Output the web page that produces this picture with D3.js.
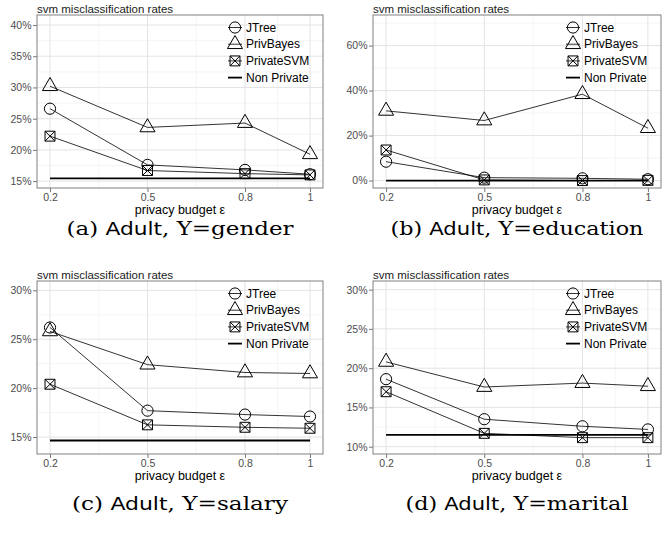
<!DOCTYPE html>
<html><head><meta charset="utf-8">
<script src="https://cdn.jsdelivr.net/npm/d3@7"></script>
<style>
html,body{margin:0;padding:0;background:#fff;}
svg{display:block;}
</style></head>
<body>
<script>
// ---------- data ----------
const epsilon = [0.2, 0.5, 0.8, 1];
const xTicks = [0.2, 0.5, 0.8, 1];
const xTickLabels = ["0.2", "0.5", "0.8", "1"];
const seriesNames = ["JTree", "PrivBayes", "PrivateSVM", "Non Private"];

const genderJTree      = [26.6, 17.6, 16.8, 16.1];
const genderPrivBayes  = [30.2, 23.6, 24.3, 19.3];
const genderPrivateSVM = [22.2, 16.7, 16.2, 16.0];
const genderNonPrivate = [15.45, 15.45, 15.45, 15.45];

const educationJTree      = [8.4, 1.3, 1.0, 0.6];
const educationPrivBayes  = [31.0, 26.7, 38.4, 23.3];
const educationPrivateSVM = [13.6, 0.3, 0.0, 0.1];
const educationNonPrivate = [0.0, 0.0, 0.0, 0.0];

const salaryJTree      = [26.2, 17.7, 17.3, 17.1];
const salaryPrivBayes  = [25.8, 22.4, 21.6, 21.5];
const salaryPrivateSVM = [20.4, 16.25, 16.0, 15.9];
const salaryNonPrivate = [14.65, 14.65, 14.65, 14.65];

const maritalJTree      = [18.6, 13.5, 12.6, 12.2];
const maritalPrivBayes  = [20.8, 17.6, 18.1, 17.7];
const maritalPrivateSVM = [17.0, 11.7, 11.15, 11.15];
const maritalNonPrivate = [11.5, 11.5, 11.5, 11.5];

const genderYTicks = [15, 20, 25, 30, 35, 40];
const educationYTicks = [0, 20, 40, 60];
const salaryYTicks = [15, 20, 25, 30];
const maritalYTicks = [10, 15, 20, 25, 30];

const captionLetters = ["(a)", "(b)", "(c)", "(d)"];
const captionTargets = ["gender", "education", "salary", "marital"];

// ---------- layout ----------
const W = 667, H = 533;
const panels = [
  {x0: 37, x1: 323, y0: 15, y1: 188, yDom: [13.9, 41.6], ticks: genderYTicks,
   series: [genderJTree, genderPrivBayes, genderPrivateSVM, genderNonPrivate], capY: 235, capW: 227},
  {x0: 373, x1: 661, y0: 15, y1: 188, yDom: [-3.3, 73.6], ticks: educationYTicks,
   series: [educationJTree, educationPrivBayes, educationPrivateSVM, educationNonPrivate], capY: 235, capW: 253},
  {x0: 37, x1: 323, y0: 281, y1: 454, yDom: [13.27, 30.95], ticks: salaryYTicks,
   series: [salaryJTree, salaryPrivBayes, salaryPrivateSVM, salaryNonPrivate], capY: 510, capW: 216},
  {x0: 373, x1: 661, y0: 281, y1: 454, yDom: [9.07, 31.1], ticks: maritalYTicks,
   series: [maritalJTree, maritalPrivBayes, maritalPrivateSVM, maritalNonPrivate], capY: 510, capW: 223}
];

const svg = d3.select("body").append("svg").attr("width", W).attr("height", H);
const SANS = "'Liberation Sans', Arial, Helvetica, sans-serif";
const SERIF = "'DejaVu Serif', 'Liberation Serif', serif";
const R = 5.6;

function drawShape(g, kind, cx, cy) {
  if (kind === 0) {
    g.append("circle").attr("cx", cx).attr("cy", cy).attr("r", R)
      .attr("fill", "none").attr("stroke", "#000").attr("stroke-width", 1);
  } else if (kind === 1) {
    const r = 1.555 * R, xc = 1.347 * R, yc = 0.778 * R;
    g.append("path").attr("d", `M${cx},${cy - r}L${cx + xc},${cy + yc}L${cx - xc},${cy + yc}Z`)
      .attr("fill", "none").attr("stroke", "#000").attr("stroke-width", 1);
  } else if (kind === 2) {
    const s = 0.886 * R;
    g.append("path").attr("d",
      `M${cx - s},${cy - s}H${cx + s}V${cy + s}H${cx - s}Z M${cx - s},${cy - s}L${cx + s},${cy + s} M${cx + s},${cy - s}L${cx - s},${cy + s}`)
      .attr("fill", "none").attr("stroke", "#000").attr("stroke-width", 1);
  }
}

panels.forEach((p, pi) => {
  const x = d3.scaleLinear().domain([0.16, 1.04]).range([p.x0, p.x1]);
  const y = d3.scaleLinear().domain(p.yDom).range([p.y1, p.y0]);
  const g = svg.append("g");

  g.append("rect").attr("x", p.x0).attr("y", p.y0).attr("width", p.x1 - p.x0).attr("height", p.y1 - p.y0)
    .attr("fill", "#fff");

  // minor grid
  const step = p.ticks[1] - p.ticks[0];
  const yMinor = [];
  for (let v = p.ticks[0] - step / 2; v <= p.yDom[1]; v += step) if (v >= p.yDom[0]) yMinor.push(v);
  const xMinor = [0.35, 0.65, 0.9];
  g.selectAll(".ymn").data(yMinor).enter().append("line")
    .attr("x1", p.x0).attr("x2", p.x1).attr("y1", d => y(d)).attr("y2", d => y(d))
    .attr("stroke", "#f0f0f0").attr("stroke-width", 0.7);
  g.selectAll(".xmn").data(xMinor).enter().append("line")
    .attr("y1", p.y0).attr("y2", p.y1).attr("x1", d => x(d)).attr("x2", d => x(d))
    .attr("stroke", "#f0f0f0").attr("stroke-width", 0.7);
  // major grid
  g.selectAll(".ymj").data(p.ticks).enter().append("line")
    .attr("x1", p.x0).attr("x2", p.x1).attr("y1", d => y(d)).attr("y2", d => y(d))
    .attr("stroke", "#e3e3e3").attr("stroke-width", 1);
  g.selectAll(".xmj").data(xTicks).enter().append("line")
    .attr("y1", p.y0).attr("y2", p.y1).attr("x1", d => x(d)).attr("x2", d => x(d))
    .attr("stroke", "#e3e3e3").attr("stroke-width", 1);

  // axes
  const xAxis = d3.axisBottom(x).tickValues(xTicks).tickSize(4).tickPadding(1.5)
    .tickFormat((d, i) => xTickLabels[i]);
  const gx = g.append("g").attr("transform", `translate(0,${p.y1})`).call(xAxis);
  const yAxis = d3.axisLeft(y).tickValues(p.ticks).tickSize(4).tickPadding(1.5)
    .tickFormat(d => d + "%");
  const gy = g.append("g").attr("transform", `translate(${p.x0},0)`).call(yAxis);
  [gx, gy].forEach(a => {
    a.select(".domain").remove();
    a.selectAll(".tick line").attr("stroke", "#555").attr("stroke-width", 0.8);
    a.selectAll(".tick text").attr("fill", "#4d4d4d").style("font-family", SANS).style("font-size", "10.5px");
  });

  // series lines
  const line = d3.line().x((d, i) => x(epsilon[i])).y(d => y(d));
  p.series.forEach((vals, si) => {
    g.append("path").datum(vals).attr("d", line).attr("fill", "none").attr("stroke", "#000")
      .attr("stroke-width", si === 3 ? 1.8 : 0.8);
  });
  // markers
  p.series.forEach((vals, si) => {
    if (si === 3) return;
    vals.forEach((v, i) => drawShape(g, si, x(epsilon[i]), y(v)));
  });

  // panel border
  g.append("rect").attr("x", p.x0).attr("y", p.y0).attr("width", p.x1 - p.x0).attr("height", p.y1 - p.y0)
    .attr("fill", "none").attr("stroke", "#808080").attr("stroke-width", 1);

  // legend
  const kx = p.x1 - 88, ky0 = p.y0 + 12.5, kdy = 16.7;
  seriesNames.forEach((nm, si) => {
    const cy = ky0 + si * kdy;
    g.append("line").attr("x1", kx - 7).attr("x2", kx + 7).attr("y1", cy).attr("y2", cy)
      .attr("stroke", "#000").attr("stroke-width", si === 3 ? 1.8 : 0.8);
    drawShape(g, si, kx, cy);
    g.append("text").attr("x", kx + 11).attr("y", cy + 4.2).text(nm)
      .style("font-family", SANS).style("font-size", "12px").attr("fill", "#000");
  });

  // title
  g.append("text").attr("x", p.x0).attr("y", p.y0 - 2.5).text("svm misclassification rates")
    .style("font-family", SANS).style("font-size", "11.5px").attr("fill", "#1a1a1a");

  // x axis title
  g.append("text").attr("x", (p.x0 + p.x1) / 2).attr("y", p.y1 + 25.5).attr("text-anchor", "middle")
    .text("privacy budget ε").style("font-family", SANS).style("font-size", "12.5px").attr("fill", "#000");

  // caption
  const cap = g.append("text").attr("x", (p.x0 + p.x1) / 2).attr("y", p.capY).attr("text-anchor", "middle")
    .attr("textLength", p.capW).attr("lengthAdjust", "spacingAndGlyphs")
    .style("font-family", SERIF).style("font-size", "19px").attr("fill", "#000");
  cap.append("tspan").text(captionLetters[pi] + " ");
  cap.append("tspan").text("Adult").style("font-family", "'DejaVu Sans', " + SANS).style("font-size", "18px");
  cap.append("tspan").text(", Y=" + captionTargets[pi]);
});
</script>
</body></html>
